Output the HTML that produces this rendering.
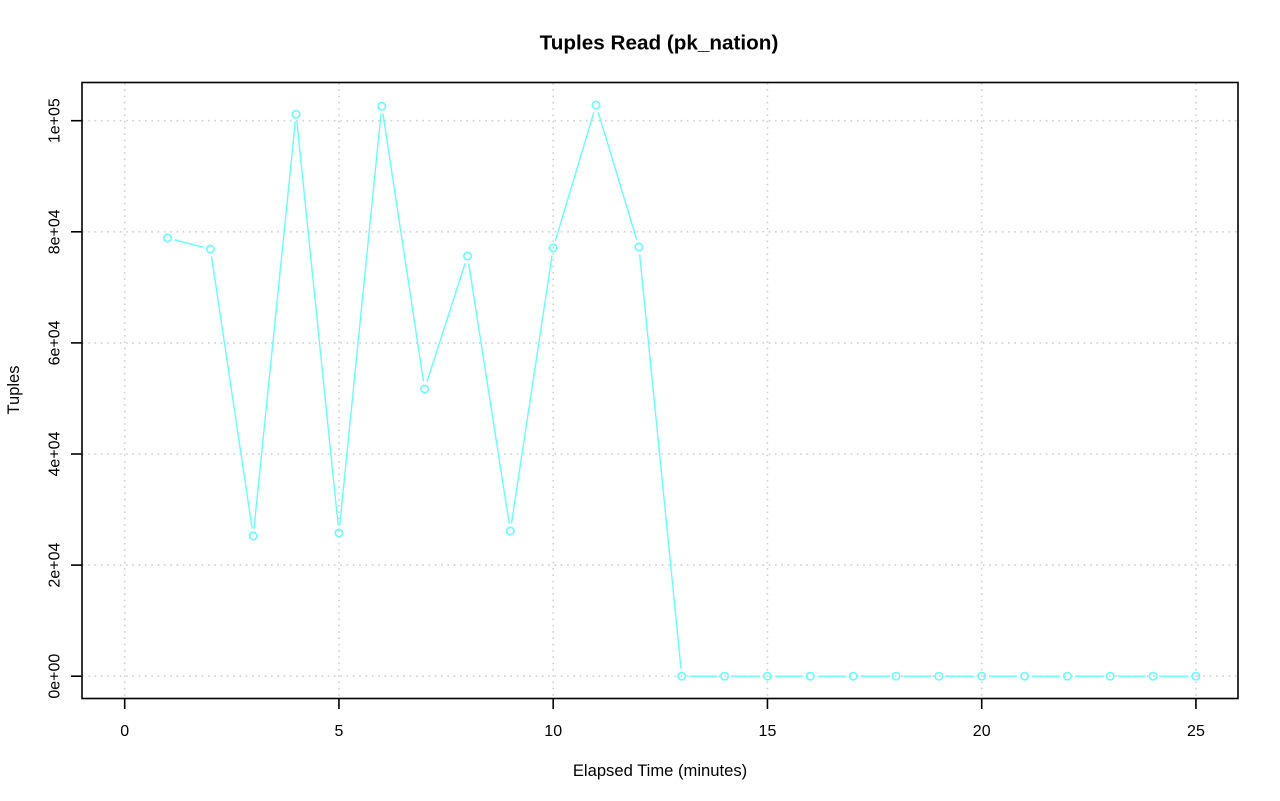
<!DOCTYPE html>
<html>
<head>
<meta charset="utf-8">
<style>
html,body{margin:0;padding:0;background:#fff;}
svg{display:block;}
text{font-family:"Liberation Sans",Arial,sans-serif;fill:#000;}
</style>
</head>
<body>
<svg width="1280" height="801" viewBox="0 0 1280 801" xmlns="http://www.w3.org/2000/svg">
<rect x="0" y="0" width="1280" height="801" fill="#fff"/>
<!-- grid -->
<g stroke="#cfcfcf" stroke-width="1.6" stroke-dasharray="1.6 4.7" fill="none">
<line x1="124.7" y1="83" x2="124.7" y2="698"/>
<line x1="338.95" y1="83" x2="338.95" y2="698"/>
<line x1="553.2" y1="83" x2="553.2" y2="698"/>
<line x1="767.45" y1="83" x2="767.45" y2="698"/>
<line x1="981.7" y1="83" x2="981.7" y2="698"/>
<line x1="1195.95" y1="83" x2="1195.95" y2="698"/>
<line x1="82" y1="676.2" x2="1238" y2="676.2"/>
<line x1="82" y1="565.1" x2="1238" y2="565.1"/>
<line x1="82" y1="454" x2="1238" y2="454"/>
<line x1="82" y1="342.9" x2="1238" y2="342.9"/>
<line x1="82" y1="231.8" x2="1238" y2="231.8"/>
<line x1="82" y1="120.7" x2="1238" y2="120.7"/>
</g>
<!-- series lines -->
<g stroke="#66ffff" stroke-width="1.4" fill="none" stroke-linecap="butt">
<line x1="174.81" y1="239.86" x2="203.14" y2="247.14"/>
<line x1="211.51" y1="256.42" x2="252.14" y2="528.58"/>
<line x1="254.01" y1="528.54" x2="295.34" y2="121.46"/>
<line x1="296.86" y1="121.46" x2="338.19" y2="525.54"/>
<line x1="339.70" y1="525.54" x2="381.05" y2="113.46"/>
<line x1="382.92" y1="113.42" x2="423.53" y2="381.58"/>
<line x1="426.95" y1="381.86" x2="465.20" y2="263.14"/>
<line x1="468.65" y1="263.41" x2="509.20" y2="523.59"/>
<line x1="511.47" y1="523.58" x2="552.08" y2="255.42"/>
<line x1="555.35" y1="240.82" x2="593.90" y2="112.18"/>
<line x1="598.22" y1="112.18" x2="636.73" y2="239.82"/>
<line x1="639.65" y1="254.46" x2="681.00" y2="668.54"/>
<line x1="689.25" y1="676.2" x2="717.1" y2="676.2"/>
<line x1="732.1" y1="676.2" x2="759.95" y2="676.2"/>
<line x1="774.95" y1="676.2" x2="802.8" y2="676.2"/>
<line x1="817.8" y1="676.2" x2="845.65" y2="676.2"/>
<line x1="860.65" y1="676.2" x2="888.5" y2="676.2"/>
<line x1="903.5" y1="676.2" x2="931.35" y2="676.2"/>
<line x1="946.35" y1="676.2" x2="974.2" y2="676.2"/>
<line x1="989.2" y1="676.2" x2="1017.05" y2="676.2"/>
<line x1="1032.05" y1="676.2" x2="1059.9" y2="676.2"/>
<line x1="1074.9" y1="676.2" x2="1102.75" y2="676.2"/>
<line x1="1117.75" y1="676.2" x2="1145.6" y2="676.2"/>
<line x1="1160.6" y1="676.2" x2="1188.45" y2="676.2"/>
</g>
<!-- points -->
<g stroke="#66ffff" stroke-width="1.6" fill="none">
<circle cx="167.55" cy="238" r="3.7"/>
<circle cx="210.4" cy="249" r="3.7"/>
<circle cx="253.25" cy="536" r="3.7"/>
<circle cx="296.1" cy="114.3" r="3.7"/>
<circle cx="338.95" cy="533" r="3.7"/>
<circle cx="381.8" cy="106.3" r="3.7"/>
<circle cx="424.65" cy="389" r="3.7"/>
<circle cx="467.5" cy="256" r="3.7"/>
<circle cx="510.35" cy="531" r="3.7"/>
<circle cx="553.2" cy="248" r="3.7"/>
<circle cx="596.05" cy="105" r="3.7"/>
<circle cx="638.9" cy="247" r="3.7"/>
<circle cx="681.75" cy="676.2" r="3.7"/>
<circle cx="724.6" cy="676.2" r="3.7"/>
<circle cx="767.45" cy="676.2" r="3.7"/>
<circle cx="810.3" cy="676.2" r="3.7"/>
<circle cx="853.15" cy="676.2" r="3.7"/>
<circle cx="896" cy="676.2" r="3.7"/>
<circle cx="938.85" cy="676.2" r="3.7"/>
<circle cx="981.7" cy="676.2" r="3.7"/>
<circle cx="1024.55" cy="676.2" r="3.7"/>
<circle cx="1067.4" cy="676.2" r="3.7"/>
<circle cx="1110.25" cy="676.2" r="3.7"/>
<circle cx="1153.1" cy="676.2" r="3.7"/>
<circle cx="1195.95" cy="676.2" r="3.7"/>
</g>
<!-- frame -->
<rect x="82" y="82.5" width="1156" height="616" fill="none" stroke="#000" stroke-width="1.6"/>
<!-- ticks -->
<g stroke="#000" stroke-width="1.6">
<line x1="124.7" y1="698" x2="124.7" y2="709"/>
<line x1="338.95" y1="698" x2="338.95" y2="709"/>
<line x1="553.2" y1="698" x2="553.2" y2="709"/>
<line x1="767.45" y1="698" x2="767.45" y2="709"/>
<line x1="981.7" y1="698" x2="981.7" y2="709"/>
<line x1="1195.95" y1="698" x2="1195.95" y2="709"/>
<line x1="71" y1="676.2" x2="82" y2="676.2"/>
<line x1="71" y1="565.1" x2="82" y2="565.1"/>
<line x1="71" y1="454" x2="82" y2="454"/>
<line x1="71" y1="342.9" x2="82" y2="342.9"/>
<line x1="71" y1="231.8" x2="82" y2="231.8"/>
<line x1="71" y1="120.7" x2="82" y2="120.7"/>
</g>
<!-- x tick labels -->
<g font-size="16" text-anchor="middle">
<text x="124.7" y="736">0</text>
<text x="338.95" y="736">5</text>
<text x="553.2" y="736">10</text>
<text x="767.45" y="736">15</text>
<text x="981.7" y="736">20</text>
<text x="1195.95" y="736">25</text>
</g>
<!-- y tick labels -->
<g font-size="16" text-anchor="middle">
<text transform="translate(59.5,676.2) rotate(-90)">0e+00</text>
<text transform="translate(59.5,565.1) rotate(-90)">2e+04</text>
<text transform="translate(59.5,454) rotate(-90)">4e+04</text>
<text transform="translate(59.5,342.9) rotate(-90)">6e+04</text>
<text transform="translate(59.5,231.8) rotate(-90)">8e+04</text>
<text transform="translate(59.5,120.7) rotate(-90)">1e+05</text>
</g>
<!-- axis titles -->
<text x="660" y="776" font-size="16.6" text-anchor="middle">Elapsed Time (minutes)</text>
<text transform="translate(19,390) rotate(-90)" font-size="16.5" text-anchor="middle">Tuples</text>
<text x="659" y="49.5" font-size="20.7" font-weight="bold" text-anchor="middle">Tuples Read (pk_nation)</text>
</svg>
</body>
</html>
